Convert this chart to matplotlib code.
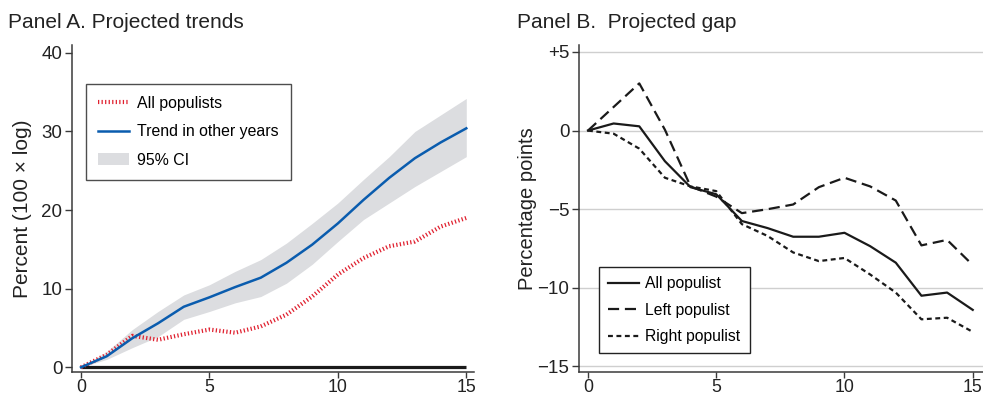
"""Projected trends and projected gap, two panels."""

import matplotlib.pyplot as plt
import numpy as np

plt.rcParams["font.family"] = ["Liberation Sans", "DejaVu Sans"]

years = np.arange(16)

# Panel A
all_populists = [0.0, 1.6, 4.0, 3.5, 4.2, 4.8, 4.4, 5.2, 6.7, 9.0, 11.8, 13.9, 15.4, 16.0, 17.9, 19.0]
trend_other = [0.0, 1.4, 3.7, 5.6, 7.7, 8.9, 10.2, 11.4, 13.3, 15.6, 18.3, 21.3, 24.1, 26.6, 28.6, 30.4]
ci_upper = [0.0, 2.0, 4.8, 7.1, 9.2, 10.5, 12.2, 13.7, 15.8, 18.3, 20.9, 23.9, 26.8, 30.0, 32.1, 34.2]
ci_lower = [0.0, 1.0, 2.5, 3.9, 6.1, 7.1, 8.2, 9.0, 10.7, 13.1, 16.0, 18.8, 20.9, 23.0, 24.9, 26.8]

# Panel B
gap_all = [0.0, 0.45, 0.27, -1.95, -3.6, -4.05, -5.75, -6.2, -6.75, -6.75, -6.5, -7.35, -8.4, -10.5, -10.3, -11.4]
gap_left = [0.0, 1.5, 3.0, 0.05, -3.55, -4.2, -5.25, -5.0, -4.7, -3.6, -3.0, -3.55, -4.45, -7.3, -6.95, -8.55]
gap_right = [0.0, -0.2, -1.15, -3.0, -3.55, -3.85, -5.95, -6.7, -7.75, -8.3, -8.1, -9.15, -10.3, -12.0, -11.9, -12.8]

ticks_a = [0, 10, 20, 30, 40]
ticks_b = [5, 0, -5, -10, -15]
tick_labels_b = ["+5", "0", "\u22125", "\u221210", "\u221215"]
x_ticks = [0, 5, 10, 15]

W, H = 983, 398
BOT, TOP = 372, 45
fig = plt.figure(figsize=(W / 100, H / 100), dpi=100)

spine_col = "#3a3a3a"
text_col = "#222222"


def style_axes(ax):
    for side in ["top", "right"]:
        ax.spines[side].set_visible(False)
    for side in ["left", "bottom"]:
        ax.spines[side].set_color(spine_col)
        ax.spines[side].set_linewidth(1.1)
    ax.tick_params(direction="out", length=5, width=1.0, color=spine_col,
                   labelsize=13.5, labelcolor=text_col, pad=2)
    ax.tick_params(axis="x", length=4, pad=1, labelsize=12.8)
    ax.set_xticks(x_ticks)


# Panel A
ax1 = fig.add_axes([72 / W, 1 - BOT / H, (474 - 72) / W, (BOT - TOP) / H])
style_axes(ax1)
ax1.fill_between(years, ci_lower, ci_upper, color="#dcdde0", lw=0, label="95% CI")
ax1.plot(years, np.zeros(len(years)), color="#1a1a1a", lw=2.3, solid_capstyle="butt")
ax1.plot(years, all_populists, color="#e0202f", lw=3.0,
         linestyle=(0, (0.3, 0.55)), label="All populists")
ax1.plot(years, trend_other, color="#0a5cae", lw=1.8, label="Trend in other years")
ax1.set_xlim(-0.35, 15.3)
ax1.set_ylim(-0.6, 41.0)
ax1.set_yticks(ticks_a)
ax1.set_ylabel("Percent (100 \u00d7 log)", fontsize=15, color=text_col)
ax1.yaxis.set_label_coords((32 - 72) / 402, 0.5)
handles, labels = ax1.get_legend_handles_labels()
order = [labels.index(n) for n in ["All populists", "Trend in other years", "95% CI"]]
leg1 = ax1.legend([handles[i] for i in order], [labels[i] for i in order],
                  loc="upper left", bbox_to_anchor=((86 - 72) / (474 - 72), (BOT - 84) / (BOT - TOP)),
                  fontsize=11.4, frameon=True, fancybox=False, edgecolor="#222222",
                  handlelength=1.95, handleheight=0.8, borderpad=0.75, labelspacing=0.85,
                  handletextpad=0.55, borderaxespad=0)
leg1.get_frame().set_linewidth(1.0)
fig.text(8 / W, 1 - 28 / H, "Panel A. Projected trends", fontsize=15,
         color=text_col, va="baseline", ha="left")

# Panel B
ax2 = fig.add_axes([579 / W, 1 - BOT / H, (983 - 579) / W, (BOT - TOP) / H])
style_axes(ax2)
for y in ticks_b:
    ax2.axhline(y, color="#cfcfcf", lw=1.0, zorder=0)
ax2.plot(years, gap_all, color="#1a1a1a", lw=1.6, label="All populist")
ax2.plot(years, gap_left, color="#1a1a1a", lw=1.6, linestyle=(0, (5, 2.6)), label="Left populist")
ax2.plot(years, gap_right, color="#1a1a1a", lw=1.6, linestyle=(0, (2.2, 1.6)), label="Right populist")
ax2.set_xlim(-0.35, 15.4)
ax2.set_ylim(-15.35, 5.44)
ax2.set_yticks(ticks_b)
ax2.set_yticklabels(tick_labels_b)
ax2.set_ylabel("Percentage points", fontsize=14.5, color=text_col)
ax2.yaxis.set_label_coords((537 - 579) / 404, 0.5)
leg2 = ax2.legend(loc="upper left",
                  bbox_to_anchor=((599 - 579) / (983 - 579), (BOT - 267) / (BOT - TOP)),
                  fontsize=11.3, frameon=True, fancybox=False, edgecolor="#222222",
                  framealpha=1.0, handlelength=1.95, borderpad=0.6, labelspacing=0.72,
                  handletextpad=0.4, borderaxespad=0)
leg2.get_frame().set_linewidth(1.0)
fig.text(517 / W, 1 - 28 / H, "Panel B.  Projected gap", fontsize=15,
         color=text_col, va="baseline", ha="left")

fig.savefig("out.png", dpi=100)
